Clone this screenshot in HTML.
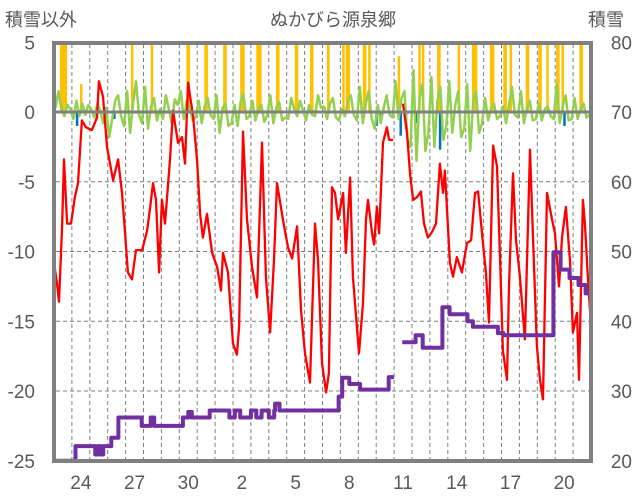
<!DOCTYPE html>
<html><head><meta charset="utf-8">
<style>
html,body{margin:0;padding:0;background:#fff;}
svg{display:block;font-family:"Liberation Sans","Noto Sans CJK JP",sans-serif;}
</style></head>
<body>
<svg id="chart" width="636" height="501" viewBox="0 0 636 501">
<text x="333" y="26" text-anchor="middle" font-size="18" fill="#595959">ぬかびら源泉郷</text>
<text x="5" y="26" font-size="18" fill="#595959">積雪以外</text>
<text x="588" y="26" font-size="18" fill="#595959">積雪</text>
<g id="grid"></g>
<g id="marks"></g>
<g id="axes"></g>
</svg>
<script>
const leftTicks = [5, 0, -5, -10, -15, -20, -25];
const rightTicks = [80, 70, 60, 50, 40, 30, 20];
const dayLabels = ["24","27","30","2","5","8","11","14","17","20"];
const dayLabelIndex = [1,4,7,10,13,16,19,22,25,28];

const tempT = [0,0.17,0.28,0.45,0.56,0.73,0.95,1.17,1.34,1.56,1.79,2.12,2.4,2.51,2.74,2.96,3.3,3.58,3.8,3.97,4.13,4.36,4.58,4.92,5.2,5.36,5.53,5.7,5.87,6.03,6.2,6.48,6.65,6.93,7.15,7.32,7.49,7.77,7.99,8.16,8.32,8.55,8.83,9.11,9.33,9.44,9.72,10,10.22,10.34,10.56,10.78,11.06,11.34,11.62,11.84,12.07,12.29,12.46,12.79,13.07,13.3,13.58,13.8,14.02,14.3,14.58,14.75,14.97,15.2,15.36,15.53,15.7,15.87,16.15,16.31,16.54,16.7,17.04,17.26,17.43,17.54,17.77,17.88,18.04,18.16,18.38,18.6,18.72,18.94,19.2,19.5,19.72,19.89,20.06,20.28,20.5,20.67,20.89,21.12,21.34,21.56,21.73,21.84,22.12,22.29,22.51,22.79,23.07,23.3,23.52,23.69,23.91,24.13,24.3,24.53,24.75,24.92,25.08,25.31,25.42,25.64,25.81,26.03,26.31,26.59,26.76,26.98,27.15,27.32,27.54,27.82,27.99,28.21,28.38,28.6,28.83,28.99,29.22,29.33,29.55,29.66,29.83,30];
const tempV = [-10.8,-12.3,-13.6,-8.2,-3.4,-8,-8,-6.1,-5.1,-0.6,-1.1,-1.3,-0.4,2.2,1.1,-2.5,-4.9,-3.4,-5.8,-8.7,-11.5,-12,-9.9,-9.9,-8.5,-7,-5.1,-6.3,-11.5,-6.3,-8,-3.4,0.1,-2.2,-1.8,-3.7,2.1,-0.3,-3.4,-7.3,-9,-7.3,-10.1,-11.1,-12.8,-10.1,-11.5,-16.6,-17.4,-15.4,-1.4,-7.7,-11.1,-13.3,-2.2,-11.8,-15.8,-10.6,-5.1,-7.7,-9.7,-10.5,-8.2,-14.2,-17.3,-19.4,-8,-10.6,-18,-20.1,-18.7,-5.4,-5.8,-7.7,-5.8,-10.1,-4.7,-11.8,-17.3,-13.7,-7.7,-6.3,-8.7,-9.5,-6.8,-8.7,-2.2,-1.1,-2,-2,null,0.6,-1.5,-4.4,-6.3,-6.1,-5.7,-8,-9,-8.6,-8,-3.7,-5.8,-4.2,-10.8,-11.8,-10.4,-11.5,-9.4,-9.2,-5.8,-5.7,-8.7,-11.5,-15.1,-2.4,-3.9,-10.6,-17.1,-19.2,-12.5,-4.4,-9.2,-11.8,-16.3,-2.7,-9,-16.8,-19.2,-20.6,-5.8,-7.7,-8.7,-12.5,-9,-6.8,-10.8,-15.8,-14.4,-19.2,-6.3,-8,-12,-15.4];

const snowT = [0,1.2,2.3,2.45,2.6,2.75,3.2,3.6,4.9,5.4,5.6,7.2,7.5,7.7,8.7,9.8,10.1,10.4,11.0,11.3,11.6,12.0,12.3,12.35,12.6,15.9,16.1,16.5,17.1,18.7,19.0,19.45,20.2,20.6,21.7,22.1,23.1,23.4,24.8,25.1,27.9,28.3,28.8,29.3,29.7,30];
const snowV = [20,22.1,20.9,22.1,20.9,22.1,23.3,26.2,25,26.2,25,26.2,27,26.2,27.2,26.2,27.2,26.2,27.2,26.2,27.2,26.2,27.2,28.2,27.2,29.2,31.9,31,30.2,32,null,37,38,36.2,42,41,40,39.2,38.3,38,49.9,47.4,46.2,45.2,44,44];

const diffV = [0.3,1.5,0.2,-0.3,0.5,0.2, -0.5,0.8,-0.3,0.6,-0.2,0.5, 0.2,-0.4,0.6,0.1,-0.8,0.3, -1.8,-0.5,0.8,1.2,-0.3,-1.0, 1.5,-1.5,0.6,2.2,-0.2,-0.8, 1.8,-1.2,0.4,1.0,-0.6,0.2, -0.5,1.2,0.2,-0.8,0.9,0.5, 1.5,-0.5,0.8,0.3,-0.6,-0.4, 0.8,-0.8,0.4,1.0,-0.2,-0.5, 1.2,-1.5,0.3,0.6,-1.0,-0.8, 0.5,-1.0,0.7,1.3,-0.5,-0.3, 0.8,-0.6,0.2,0.5,-0.7,-0.2, 1.2,-0.8,0.3,0.7,-0.6,-0.4, -0.5,1.0,0.2,-0.3,0.8,0.1, -0.6,0.5,-0.2,-0.3,1.2,0.3, 0.4,-0.5,0.6,1.0,-0.4,-0.6, 0.2,-0.3,0.8,1.2,-0.2,-0.6, 1.8,-0.8,0.6,1.5,-0.5,-1.2, 0.5,-0.8,0.3,1.2,-0.2,-0.4, 2.2,-0.5,1.0,1.5,-2.0,-2.5, 3.0,-3.5,1.0,2.0,-2.8,-1.5, 2.5,-2.5,0.8,1.8,-2.0,-1.0, 2.2,-1.5,0.5,1.5,-1.8,-1.2, 2.0,-2.8,0.7,1.5,-1.5,-0.8, 1.0,-0.6,0.2,0.6,-0.5,-0.3, 0.4,-0.8,0.5,1.8,-0.2,-0.4, 1.5,-0.8,0.3,0.8,-0.6,-0.5, 0.6,-0.6,0.2,0.4,-0.3,-0.5, 2.0,-0.8,0.4,1.2,-0.6,-0.5, 1.0,-0.5,0.2,0.6,-0.4,-0.2];

const precipT = [0.33,1.45,4.3,5.4,7.4,8.4,9.45,10.4,11.3,12.4,13.45,14.3,15.25,16.1,16.3,16.4,17.25,17.55,19.2,20.35,20.55,21.4,22.55,23.35,24.35,25.1,25.45,26.35,27.05,27.5,28.05,28.35,29.35];
const precipH = [8,1,1,2,4,4,4,5,6,4,4,4,3,1,1,2,4,1,1,1,1,4,1,6,5,4,1,4,4,1,4,2,4];
const precipV = [6,2,6,6,6,6,6,6,6,6,6,6,6,6,6,6,6,6,4,6,6,6,6,6,6,6,6,6,6,6,6,6,6];

const meltT = [1.22,3.3,17.95,18.2,19.3,19.6,20.15,21.5,28.45];
const meltV = [-1.0,-0.5,-1.0,-0.6,-1.7,-1.2,-0.8,-2.7,-1.0];

const NS = "http://www.w3.org/2000/svg";
const X0 = 54, DAYW = 17.9, Y0 = 112, PXU = 13.95;
function xs(t){ return X0 + t*DAYW; }
function yl(v){ return Y0 - v*PXU; }
function yr(s){ return yl((s-70)/2); }
function mk(tag, attrs, parent){ const e=document.createElementNS(NS,tag); for(const k in attrs) e.setAttribute(k,attrs[k]); parent.appendChild(e); return e; }
const gridG=document.getElementById('grid'), marksG=document.getElementById('marks'), axesG=document.getElementById('axes');

for(let k=1;k<30;k++){
  const l=mk('line',{x1:xs(k),x2:xs(k),y1:44,y2:460,stroke:'#7f7f7f','stroke-width':1,'stroke-dasharray':'4,3'},gridG);
  
  
}
leftTicks.forEach(v=>{
  if(v>-25 && v<5 && v!==0){
    const l=mk('line',{x1:56,x2:590,y1:yl(v),y2:yl(v),stroke:'#7f7f7f','stroke-width':1,'stroke-dasharray':'4,3'},gridG);
    
    
  }
  const t=mk('text',{x:35,y:yl(v)+7,'text-anchor':'end','font-size':19,fill:'#595959'},axesG);
  t.textContent=v;
  
  
});
rightTicks.forEach(sv=>{
  const t=mk('text',{x:632,y:yr(sv)+7,'text-anchor':'end','font-size':19,fill:'#595959'},axesG);
  t.textContent=sv;
  
  
});
dayLabels.forEach((d,i)=>{
  const t=mk('text',{x:xs(dayLabelIndex[i]+0.5),y:489,'text-anchor':'middle','font-size':19,fill:'#595959'},axesG);
  t.textContent=d;
  
  
});

const plotTop=44;
precipT.forEach((t,i)=>{
  const yv=Math.max(plotTop, yl(precipV[i]));
  const w=Math.max(2.5, precipH[i]*DAYW/20);
  const b=mk('rect',{x:xs(t),y:yv,width:w,height:Y0-yv,fill:'#ffc000'},marksG);
  
  
});
meltT.forEach((t,i)=>{
  const b=mk('rect',{x:xs(t),y:Y0,width:2.5,height:yl(meltV[i])-Y0,fill:'#0070c0'},marksG);
  
  
});
let gd='';
diffV.forEach((v,i)=>{ gd+=(i?'L':'M')+xs((i+0.5)/6).toFixed(1)+','+yl(v).toFixed(1); });
const gLine=mk('path',{d:gd,fill:'none',stroke:'#92d050','stroke-width':2.5,'stroke-linejoin':'round'},marksG);



let rd='', pen=false;
tempT.forEach((t,i)=>{
  const v=tempV[i];
  if(v===null){pen=false;return;}
  rd+=(pen?'L':'M')+xs(t).toFixed(1)+','+yl(v).toFixed(1); pen=true;
});
const rLine=mk('path',{d:rd,fill:'none',stroke:'#ff0000','stroke-width':2.3,'stroke-linejoin':'round'},marksG);



let sd=''; pen=false; let prev=null;
snowT.forEach((t,i)=>{
  const v=snowV[i];
  if(v===null){ if(pen) sd+='L'+xs(t).toFixed(1)+','+yr(prev).toFixed(1); pen=false; return; }
  if(pen) sd+='L'+xs(t).toFixed(1)+','+yr(prev).toFixed(1)+'L'+xs(t).toFixed(1)+','+yr(v).toFixed(1);
  else sd+='M'+xs(t).toFixed(1)+','+yr(v).toFixed(1);
  pen=true; prev=v;
});
const sLine=mk('path',{d:sd,fill:'none',stroke:'#7030a0','stroke-width':4,'stroke-linejoin':'round'},marksG);



const zLine=mk('line',{x1:X0,x2:592,y1:Y0,y2:Y0,stroke:'#808080','stroke-width':3},axesG);


const frame=mk('rect',{x:54,y:43,width:537,height:418,fill:'none',stroke:'#808080','stroke-width':4},axesG);


</script>
</body></html>
